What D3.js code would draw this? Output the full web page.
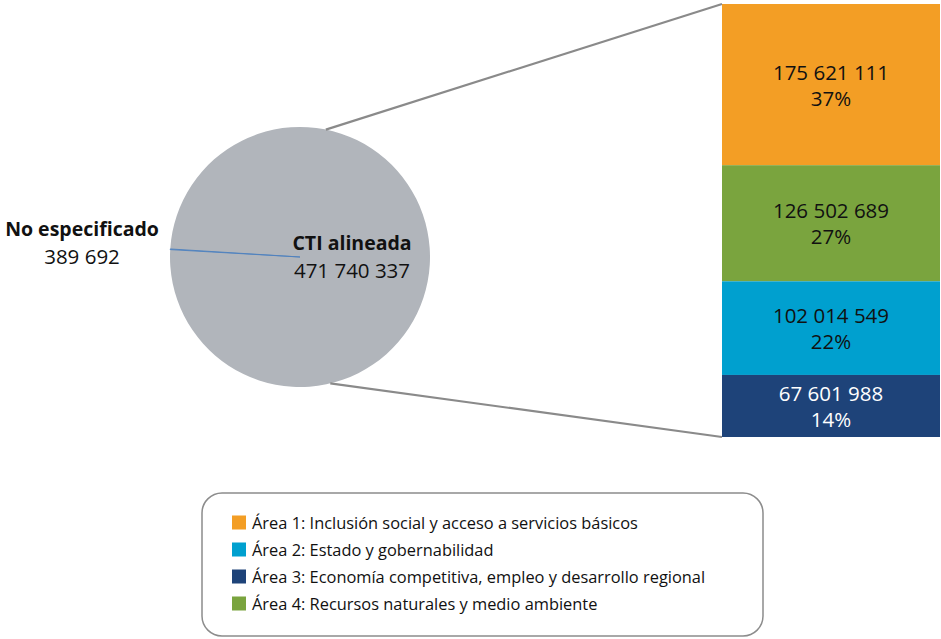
<!DOCTYPE html>
<html>
<head>
<meta charset="utf-8">
<script src="https://cdn.jsdelivr.net/npm/d3@7"></script>
<style>
  body { margin: 0; background: #fff; }
  svg { display: block; font-family: "Open Sans", "Noto Sans", sans-serif; }
</style>
</head>
<body>
<svg id="chart" width="941" height="639"></svg>
<script>
/* ------------------ data ------------------ */

const pieCategories = ["CTI alineada", "No especificado"];
const pieValues = [471740337, 389692];
const pieLabels = ["471 740 337", "389 692"];

const barCategories = ["Área 1", "Área 4", "Área 2", "Área 3"];
const barValues = [175621111, 126502689, 102014549, 67601988];
const barLabels = ["175 621 111", "126 502 689", "102 014 549", "67 601 988"];
const barPercents = ["37%", "27%", "22%", "14%"];

const legendCategories = ["Área 1", "Área 2", "Área 3", "Área 4"];
const legendLabels = [
  "Área 1: Inclusión social y acceso a servicios básicos",
  "Área 2: Estado y gobernabilidad",
  "Área 3: Economía competitiva, empleo y desarrollo regional",
  "Área 4: Recursos naturales y medio ambiente"
];

/* ------------------ constants ------------------ */

const COLORS = {
  "Área 1": "#F39E25",
  "Área 2": "#00A0CF",
  "Área 3": "#1E4379",
  "Área 4": "#7AA43E"
};
const PIE_COLORS = ["#B1B5BB", "#4F81BD"];
const PIE = { cx: 300, cy: 257, r: 130 };
const BAR = { x0: 722, x1: 940, top: 4, bottom: 437 };

const svg = d3.select("#chart");

/* ------------------ pie ------------------ */

const smallAngle = -Math.PI / 2 + 0.062;
const pie = d3.pie().sort(null)
  .startAngle(smallAngle)
  .endAngle(smallAngle + 2 * Math.PI);
const arcs = pie(pieValues);
const arc = d3.arc().innerRadius(0).outerRadius(PIE.r);

const pieG = svg.append("g").attr("transform", `translate(${PIE.cx},${PIE.cy})`);
pieG.selectAll("path")
  .data(arcs)
  .join("path")
  .attr("d", arc)
  .attr("fill", (d, i) => PIE_COLORS[i])
  .attr("stroke", (d, i) => i === 1 ? PIE_COLORS[1] : "none")
  .attr("stroke-width", 0.9);

/* ------------------ bar ------------------ */

const total = d3.sum(barValues);
const y = d3.scaleLinear().domain([0, total]).range([BAR.top, BAR.bottom]);
const stacks = [];
barValues.reduce((acc, v, i) => {
  stacks.push({ cat: barCategories[i], y0: acc, y1: acc + v, label: barLabels[i], pct: barPercents[i] });
  return acc + v;
}, 0);

const barG = svg.append("g");
barG.selectAll("rect")
  .data(stacks)
  .join("rect")
  .attr("x", BAR.x0)
  .attr("width", BAR.x1 - BAR.x0)
  .attr("y", d => y(d.y0))
  .attr("height", d => y(d.y1) - y(d.y0))
  .attr("fill", d => COLORS[d.cat]);

const barText = barG.selectAll("text")
  .data(stacks)
  .join("text")
  .attr("text-anchor", "middle")
  .attr("font-size", 20.5)
  .attr("fill", d => d.cat === "Área 3" ? "#fff" : "#111")
  .attr("transform", d => `translate(${(BAR.x0 + BAR.x1) / 2},${(y(d.y0) + y(d.y1)) / 2})`);
barText.append("tspan").attr("x", 0).attr("y", -5).text(d => d.label);
barText.append("tspan").attr("x", 0).attr("y", 21).text(d => d.pct);

/* ------------------ connectors ------------------ */

const topAng = 0.2, botAng = Math.PI - 0.235;
const conn = [
  [[PIE.cx + PIE.r * Math.sin(topAng), PIE.cy - PIE.r * Math.cos(topAng)], [BAR.x0, y(0)]],
  [[PIE.cx + PIE.r * Math.sin(botAng), PIE.cy - PIE.r * Math.cos(botAng)], [BAR.x0, y(total)]]
];
svg.append("g").selectAll("line")
  .data(conn)
  .join("line")
  .attr("x1", d => d[0][0]).attr("y1", d => d[0][1])
  .attr("x2", d => d[1][0]).attr("y2", d => d[1][1])
  .attr("stroke", "#8A8A8A")
  .attr("stroke-width", 2.2);

/* ------------------ pie labels ------------------ */

const pieLabelPos = [[352, 243], [82, 229]];
const pl = svg.append("g").selectAll("text")
  .data(pieCategories)
  .join("text")
  .attr("text-anchor", "middle")
  .attr("font-size", 20)
  .attr("fill", "#111")
  .attr("transform", (d, i) => `translate(${pieLabelPos[i][0]},${pieLabelPos[i][1]})`);
pl.append("tspan").attr("x", 0).attr("y", 7).attr("font-weight", "bold").attr("font-size", 19.5).text(d => d);
pl.append("tspan").attr("x", 0).attr("y", 35).attr("font-size", 20.5).text((d, i) => pieLabels[i]);

/* ------------------ legend ------------------ */

const legend = svg.append("g");
legend.append("rect")
  .attr("x", 202).attr("y", 493)
  .attr("width", 561).attr("height", 143)
  .attr("rx", 20)
  .attr("fill", "#fff")
  .attr("stroke", "#8C8C8C")
  .attr("stroke-width", 1.5);

const ly = d3.scaleBand().domain(legendCategories).range([509, 617]);
const items = legend.selectAll("g.item")
  .data(legendCategories)
  .join("g")
  .attr("class", "item")
  .attr("transform", d => `translate(232,${ly(d) + ly.bandwidth() / 2})`);
items.append("rect")
  .attr("x", 0).attr("y", -7)
  .attr("width", 14).attr("height", 14)
  .attr("fill", d => COLORS[d]);
items.append("text")
  .attr("x", 20).attr("y", 6)
  .attr("font-size", 16.4)
  .attr("fill", "#111")
  .text((d, i) => legendLabels[i]);
</script>
</body>
</html>
